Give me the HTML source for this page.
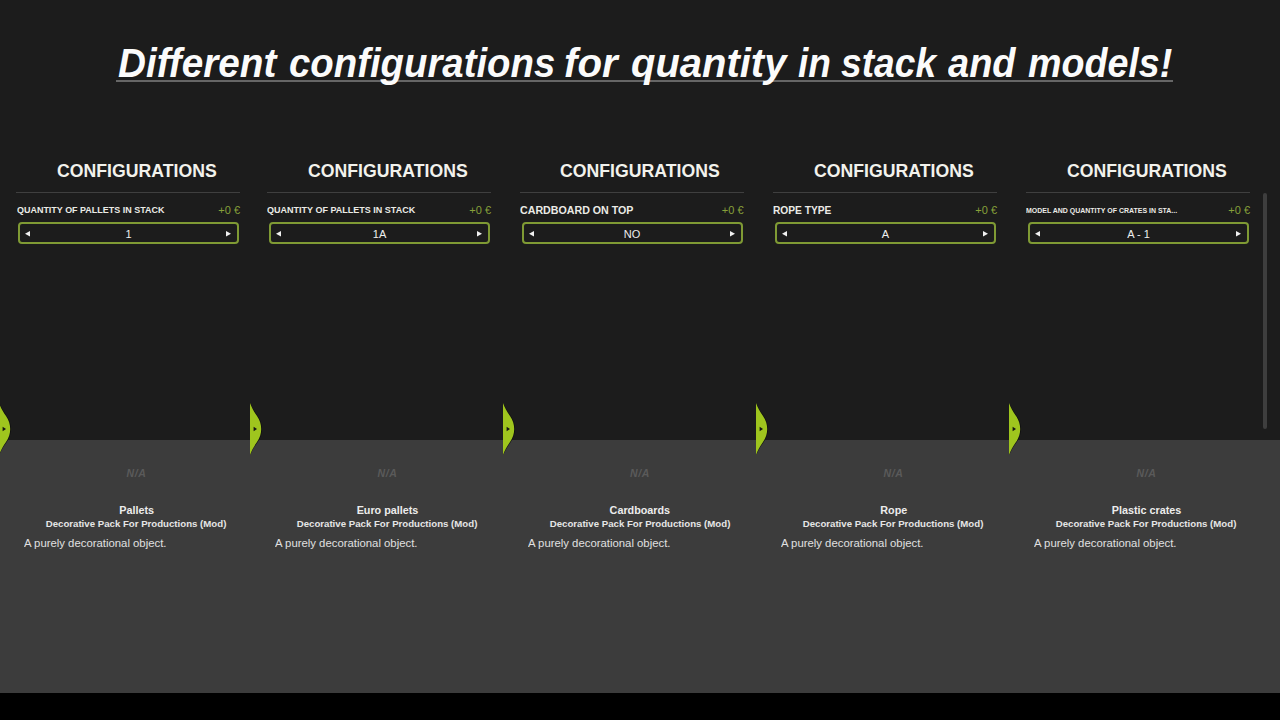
<!DOCTYPE html><html><head><meta charset="utf-8"><style>
*{margin:0;padding:0;box-sizing:border-box}
html,body{width:1280px;height:720px;overflow:hidden;background:#1c1c1c;font-family:"Liberation Sans",sans-serif}
.abs{position:absolute}
.t{position:absolute;line-height:1;white-space:nowrap}
.t>span{display:inline-block}
.c{text-align:center}
.c>span{transform-origin:center}
.l>span{transform-origin:left}
.r>span{transform-origin:right}
.r{text-align:right}
.title{font-weight:bold;font-style:italic;color:#fbfbfb}
#uline{left:116px;top:80px;width:1057px;height:2px;background:#666}
#bottom{left:0;top:440px;width:1280px;height:253px;background:#3c3c3c}
#black{left:0;top:693px;width:1280px;height:27px;background:#000}
.panel{position:absolute;top:0;width:270px;height:720px}
.div{position:absolute;left:17px;top:192px;width:224px;height:1px;background:#3f3f3f}
.hdr{left:17px;width:241px;font-size:19px;font-weight:bold;color:#f2f2ec}
.lbl{left:18px;font-weight:bold;color:#ebebe6}
.price{left:180px;width:61px;font-size:11px;color:#87a03a}
.sel{position:absolute;left:19px;top:222px;width:221px;height:22px;border:2px solid #7f9a34;border-radius:4px}
.val{left:19px;width:221px;font-size:11px;color:#eeeeee}
.na{left:17px;width:241px;font-size:10.5px;font-weight:bold;font-style:italic;color:#5a5a5a}
.nm{left:17px;width:241px;font-size:11px;font-weight:bold;color:#ececec}
.mod{left:17px;width:241px;font-size:10px;font-weight:bold;color:#e6e6e6}
.desc{left:25px;font-size:11.5px;color:#e0e0e0}
.tab{position:absolute;left:0;top:403px}
#sb{left:1263px;top:193px;width:4px;height:236px;background:#3e3e3e;border-radius:2px}
</style></head><body>
<div class="abs" id="bottom"></div><div class="abs" id="black"></div><div class="abs" id="uline"></div>
<div class="t l title" style="left:117.60px;top:43.39px;font-size:41px"><span style="transform:scaleX(0.9435)">Different</span></div>
<div class="t l title" style="left:289.06px;top:43.39px;font-size:41px"><span style="transform:scaleX(0.9353)">configurations</span></div>
<div class="t l title" style="left:564.02px;top:43.39px;font-size:41px"><span style="transform:scaleX(0.9821)">for</span></div>
<div class="t l title" style="left:631.03px;top:43.39px;font-size:41px"><span style="transform:scaleX(0.9744)">quantity</span></div>
<div class="t l title" style="left:798.40px;top:43.39px;font-size:41px"><span style="transform:scaleX(0.9029)">in</span></div>
<div class="t l title" style="left:840.60px;top:43.39px;font-size:41px"><span style="transform:scaleX(0.9066)">stack</span></div>
<div class="t l title" style="left:948.40px;top:43.39px;font-size:41px"><span style="transform:scaleX(0.9270)">and</span></div>
<div class="t l title" style="left:1027.70px;top:43.39px;font-size:41px"><span style="transform:scaleX(0.9178)">models!</span></div>
<div class="panel" style="left:-1px"><div class="div"></div><div class="t c hdr" style="top:161.42px"><span style="transform:scaleX(0.93)">CONFIGURATIONS</span></div><div class="t l lbl" style="top:205.19px;margin-left:0px;font-size:9.7px"><span style="transform:scaleX(0.925)">QUANTITY OF PALLETS IN STACK</span></div><div class="t r price" style="top:204.89px"><span>+0 €</span></div><div class="sel"></div><svg class="abs" style="left:26px;top:230.5px" width="6" height="6" viewBox="0 0 6 6"><path d="M5 0 L0 2.75 L5 5.5Z" fill="#f0f0f0"/></svg><svg class="abs" style="left:227px;top:230.5px" width="6" height="6" viewBox="0 0 6 6"><path d="M0 0 L5 2.75 L0 5.5Z" fill="#f0f0f0"/></svg><div class="t c val" style="top:228.99px"><span>1</span></div><svg class="tab" width="14" height="52" viewBox="0 0 14 52"><path d="M0 -0.5 C1.5 3.5 4.5 8.5 7.5 12.5 C10.5 16.5 12 22 12 26 C12 30 10.5 35.5 7.5 39.5 C4.5 43.5 1.5 48.5 0 52.5 Z" fill="#0c0c0c" opacity="0.8"/><path d="M0 0 C1.5 4 4 9 7 13 C10 17 11.2 22 11.2 26 C11.2 30 10 35 7 39 C4 43 1.5 48 0 52 Z" fill="#9fc51e"/><path d="M3.6 23.8 L7 26 L3.6 28.2 Z" fill="#151515"/></svg><div class="t c na" style="top:467.91px;letter-spacing:0.6px"><span>N/A</span></div><div class="t c nm" style="top:505.09px"><span style="transform:scaleX(0.98)">Pallets</span></div><div class="t c mod" style="top:519.91px;font-size:9.2px"><span style="transform:scaleX(1.05)">Decorative Pack For Productions (Mod)</span></div><div class="t l desc" style="top:538.27px"><span style="transform:scaleX(0.986)">A purely decorational object.</span></div></div>
<div class="panel" style="left:250px"><div class="div"></div><div class="t c hdr" style="top:161.42px"><span style="transform:scaleX(0.93)">CONFIGURATIONS</span></div><div class="t l lbl" style="top:205.19px;margin-left:-0.7px;font-size:9.7px"><span style="transform:scaleX(0.93)">QUANTITY OF PALLETS IN STACK</span></div><div class="t r price" style="top:204.89px"><span>+0 €</span></div><div class="sel"></div><svg class="abs" style="left:26px;top:230.5px" width="6" height="6" viewBox="0 0 6 6"><path d="M5 0 L0 2.75 L5 5.5Z" fill="#f0f0f0"/></svg><svg class="abs" style="left:227px;top:230.5px" width="6" height="6" viewBox="0 0 6 6"><path d="M0 0 L5 2.75 L0 5.5Z" fill="#f0f0f0"/></svg><div class="t c val" style="top:228.99px"><span>1A</span></div><svg class="tab" width="14" height="52" viewBox="0 0 14 52"><path d="M0 -0.5 C1.5 3.5 4.5 8.5 7.5 12.5 C10.5 16.5 12 22 12 26 C12 30 10.5 35.5 7.5 39.5 C4.5 43.5 1.5 48.5 0 52.5 Z" fill="#0c0c0c" opacity="0.8"/><path d="M0 0 C1.5 4 4 9 7 13 C10 17 11.2 22 11.2 26 C11.2 30 10 35 7 39 C4 43 1.5 48 0 52 Z" fill="#9fc51e"/><path d="M3.6 23.8 L7 26 L3.6 28.2 Z" fill="#151515"/></svg><div class="t c na" style="top:467.91px;letter-spacing:0.6px"><span>N/A</span></div><div class="t c nm" style="top:505.09px"><span style="transform:scaleX(0.98)">Euro pallets</span></div><div class="t c mod" style="top:519.91px;font-size:9.2px"><span style="transform:scaleX(1.05)">Decorative Pack For Productions (Mod)</span></div><div class="t l desc" style="top:538.27px"><span style="transform:scaleX(0.986)">A purely decorational object.</span></div></div>
<div class="panel" style="left:502.5px"><div class="div"></div><div class="t c hdr" style="top:161.42px"><span style="transform:scaleX(0.93)">CONFIGURATIONS</span></div><div class="t l lbl" style="top:204.28px;margin-left:-0.2px;font-size:11.6px"><span style="transform:scaleX(0.919)">CARDBOARD ON TOP</span></div><div class="t r price" style="top:204.89px"><span>+0 €</span></div><div class="sel"></div><svg class="abs" style="left:26px;top:230.5px" width="6" height="6" viewBox="0 0 6 6"><path d="M5 0 L0 2.75 L5 5.5Z" fill="#f0f0f0"/></svg><svg class="abs" style="left:227px;top:230.5px" width="6" height="6" viewBox="0 0 6 6"><path d="M0 0 L5 2.75 L0 5.5Z" fill="#f0f0f0"/></svg><div class="t c val" style="top:228.99px"><span>NO</span></div><svg class="tab" width="14" height="52" viewBox="0 0 14 52"><path d="M0 -0.5 C1.5 3.5 4.5 8.5 7.5 12.5 C10.5 16.5 12 22 12 26 C12 30 10.5 35.5 7.5 39.5 C4.5 43.5 1.5 48.5 0 52.5 Z" fill="#0c0c0c" opacity="0.8"/><path d="M0 0 C1.5 4 4 9 7 13 C10 17 11.2 22 11.2 26 C11.2 30 10 35 7 39 C4 43 1.5 48 0 52 Z" fill="#9fc51e"/><path d="M3.6 23.8 L7 26 L3.6 28.2 Z" fill="#151515"/></svg><div class="t c na" style="top:467.91px;letter-spacing:0.6px"><span>N/A</span></div><div class="t c nm" style="top:505.09px"><span style="transform:scaleX(0.98)">Cardboards</span></div><div class="t c mod" style="top:519.91px;font-size:9.2px"><span style="transform:scaleX(1.05)">Decorative Pack For Productions (Mod)</span></div><div class="t l desc" style="top:538.27px"><span style="transform:scaleX(0.986)">A purely decorational object.</span></div></div>
<div class="panel" style="left:756px"><div class="div"></div><div class="t c hdr" style="top:161.42px"><span style="transform:scaleX(0.93)">CONFIGURATIONS</span></div><div class="t l lbl" style="top:204.28px;margin-left:-0.6px;font-size:11.6px"><span style="transform:scaleX(0.88)">ROPE TYPE</span></div><div class="t r price" style="top:204.89px"><span>+0 €</span></div><div class="sel"></div><svg class="abs" style="left:26px;top:230.5px" width="6" height="6" viewBox="0 0 6 6"><path d="M5 0 L0 2.75 L5 5.5Z" fill="#f0f0f0"/></svg><svg class="abs" style="left:227px;top:230.5px" width="6" height="6" viewBox="0 0 6 6"><path d="M0 0 L5 2.75 L0 5.5Z" fill="#f0f0f0"/></svg><div class="t c val" style="top:228.99px"><span>A</span></div><svg class="tab" width="14" height="52" viewBox="0 0 14 52"><path d="M0 -0.5 C1.5 3.5 4.5 8.5 7.5 12.5 C10.5 16.5 12 22 12 26 C12 30 10.5 35.5 7.5 39.5 C4.5 43.5 1.5 48.5 0 52.5 Z" fill="#0c0c0c" opacity="0.8"/><path d="M0 0 C1.5 4 4 9 7 13 C10 17 11.2 22 11.2 26 C11.2 30 10 35 7 39 C4 43 1.5 48 0 52 Z" fill="#9fc51e"/><path d="M3.6 23.8 L7 26 L3.6 28.2 Z" fill="#151515"/></svg><div class="t c na" style="top:467.91px;letter-spacing:0.6px"><span>N/A</span></div><div class="t c nm" style="top:505.09px"><span style="transform:scaleX(0.98)">Rope</span></div><div class="t c mod" style="top:519.91px;font-size:9.2px"><span style="transform:scaleX(1.05)">Decorative Pack For Productions (Mod)</span></div><div class="t l desc" style="top:538.27px"><span style="transform:scaleX(0.986)">A purely decorational object.</span></div></div>
<div class="panel" style="left:1009px"><div class="div"></div><div class="t c hdr" style="top:161.42px"><span style="transform:scaleX(0.93)">CONFIGURATIONS</span></div><div class="t l lbl" style="top:206.53px;margin-left:-0.75px;font-size:8px"><span style="transform:scaleX(0.872)">MODEL AND QUANTITY OF CRATES IN STA...</span></div><div class="t r price" style="top:204.89px"><span>+0 €</span></div><div class="sel"></div><svg class="abs" style="left:26px;top:230.5px" width="6" height="6" viewBox="0 0 6 6"><path d="M5 0 L0 2.75 L5 5.5Z" fill="#f0f0f0"/></svg><svg class="abs" style="left:227px;top:230.5px" width="6" height="6" viewBox="0 0 6 6"><path d="M0 0 L5 2.75 L0 5.5Z" fill="#f0f0f0"/></svg><div class="t c val" style="top:228.99px"><span>A - 1</span></div><svg class="tab" width="14" height="52" viewBox="0 0 14 52"><path d="M0 -0.5 C1.5 3.5 4.5 8.5 7.5 12.5 C10.5 16.5 12 22 12 26 C12 30 10.5 35.5 7.5 39.5 C4.5 43.5 1.5 48.5 0 52.5 Z" fill="#0c0c0c" opacity="0.8"/><path d="M0 0 C1.5 4 4 9 7 13 C10 17 11.2 22 11.2 26 C11.2 30 10 35 7 39 C4 43 1.5 48 0 52 Z" fill="#9fc51e"/><path d="M3.6 23.8 L7 26 L3.6 28.2 Z" fill="#151515"/></svg><div class="t c na" style="top:467.91px;letter-spacing:0.6px"><span>N/A</span></div><div class="t c nm" style="top:505.09px"><span style="transform:scaleX(0.98)">Plastic crates</span></div><div class="t c mod" style="top:519.91px;font-size:9.2px"><span style="transform:scaleX(1.05)">Decorative Pack For Productions (Mod)</span></div><div class="t l desc" style="top:538.27px"><span style="transform:scaleX(0.986)">A purely decorational object.</span></div></div>
<div class="abs" id="sb"></div>
</body></html>
